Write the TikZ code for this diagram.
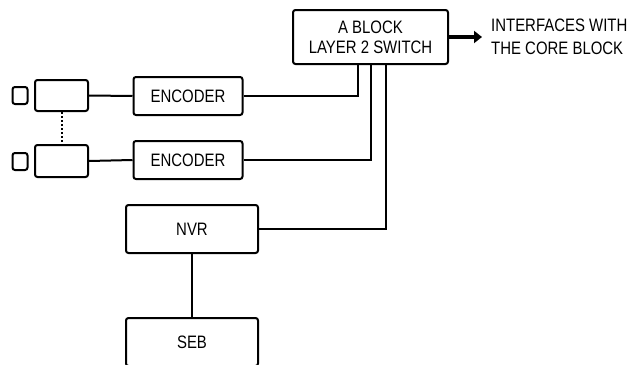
\documentclass[tikz,border=0pt]{standalone}
\usepackage{fontspec}
\setmainfont{Liberation Sans}[FakeStretch=0.83]
\usetikzlibrary{arrows.meta}
\begin{document}
\begin{tikzpicture}[x=1pt,y=-1pt,
  box/.style={draw,line width=2pt,rounded corners=2.5pt,inner sep=0pt,font=\fontsize{18}{20}\selectfont,align=center},
  wire/.style={line width=2pt},
  lbl/.style={font=\fontsize{18}{23}\selectfont,align=left,inner sep=0pt}]
\useasboundingbox (0,0) rectangle (634,364);
\node[box,minimum width=15pt,minimum height=17pt] (sq1) at (20,95.5) {};
\node[box,minimum width=53pt,minimum height=31pt] (cam1) at (61.5,95.5) {};
\node[box,minimum width=109pt,minimum height=38pt] (enc1) at (188,96) {ENCODER};
\node[box,minimum width=15pt,minimum height=17pt] (sq2) at (20,161.5) {};
\node[box,minimum width=53pt,minimum height=32pt] (cam2) at (61.5,161) {};
\node[box,minimum width=109pt,minimum height=38pt] (enc2) at (188,160) {ENCODER};
\node[box,minimum width=155pt,minimum height=54pt] (sw) at (370.5,37) {A BLOCK\\LAYER 2 SWITCH};
\node[box,minimum width=132pt,minimum height=48pt] (nvr) at (192,229) {NVR};
\node[box,minimum width=132pt,minimum height=48pt] (seb) at (192,342) {SEB};
\node[lbl,anchor=west] (ifc) at (491,37) {INTERFACES WITH\\THE CORE BLOCK};
\coordinate (tip) at (482,37);
\draw[wire] (cam1.east) -- (enc1.west);
\draw[wire] (cam2.east) -- (enc2.west);
\draw[wire,dash pattern=on 2pt off 2pt] (cam1.south) -- (cam2.north);
\draw[wire] (enc1.east) -| ([xshift=-13pt]sw.south);
\draw[wire] (enc2.east) -| (sw.south);
\draw[wire] (nvr.east) -| ([xshift=15.5pt]sw.south);
\draw[wire] (nvr.south) -- (seb.north);
\draw[line width=4pt,-{Triangle[length=8pt,width=12pt]}] (sw.east) -- (tip);
\end{tikzpicture}
\end{document}
